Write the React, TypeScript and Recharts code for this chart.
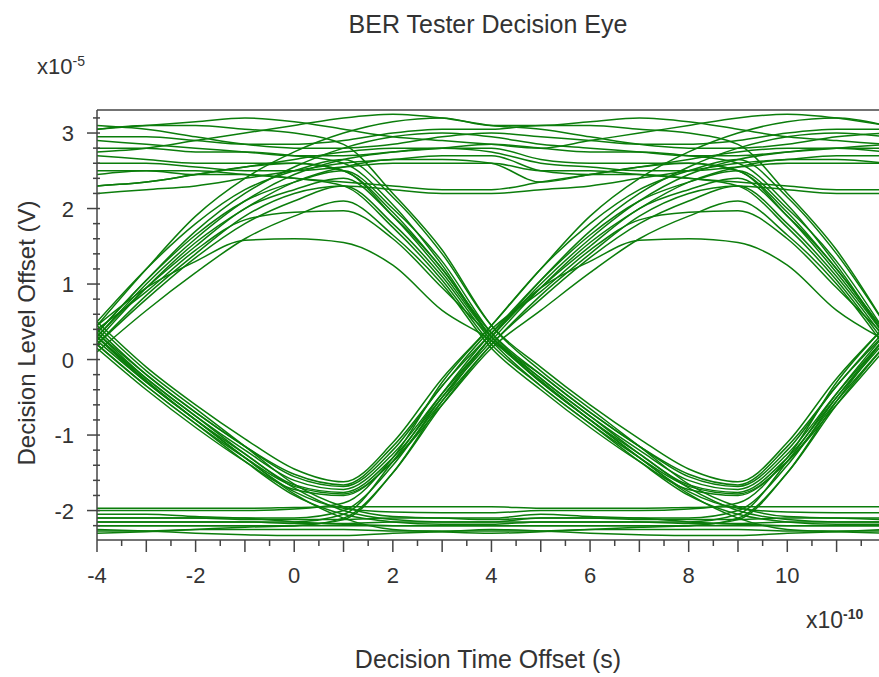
import React from "react";
import { LineChart, Line, XAxis, YAxis, ReferenceLine } from "recharts";

// time grid, units of 1e-10 s
const XS = [-4, -3, -2, -1, 0, 1, 2, 3, 4, 5, 6, 7, 8, 9, 10, 11, 12];

const X_TICKS = [-4, -3.5, -3, -2.5, -2, -1.5, -1, -0.5, 0, 0.5, 1, 1.5, 2, 2.5, 3, 3.5, 4, 4.5, 5, 5.5, 6, 6.5, 7, 7.5, 8, 8.5, 9, 9.5, 10, 10.5, 11, 11.5];
const Y_TICKS = [-2.2, -2, -1.8, -1.6, -1.4, -1.2, -1, -0.8, -0.6, -0.4, -0.2, 0, 0.2, 0.4, 0.6, 0.8, 1, 1.2, 1.4, 1.6, 1.8, 2, 2.2, 2.4, 2.6, 2.8, 3, 3.2];

// one bit window (x = -4..4), units of 1e-5 V, read off the eye
// rise then fall (010)
const RF_A = [0.3, 0.95, 1.5, 2.0, 2.25, 2.4, 1.9, 1.2, 0.3];
const RF_B = [0.1, 0.65, 1.15, 1.6, 1.9, 2.1, 1.65, 1.0, 0.15];
const RF_C = [0.5, 1.2, 1.8, 2.25, 2.5, 2.65, 2.15, 1.4, 0.45];
const RF_D = [0.45, 0.95, 1.3, 1.58, 1.6, 1.55, 1.25, 0.65, 0.25];
const RF_E = [0.4, 0.9, 1.45, 1.85, 1.95, 1.97, 1.6, 0.95, 0.3];
const RF_F = [0.2, 0.8, 1.35, 1.8, 2.1, 2.3, 1.8, 1.1, 0.25];
const RF_G = [0.35, 1.05, 1.65, 2.1, 2.35, 2.5, 2.0, 1.3, 0.35];
// rise then stay high (011)
const RH_A = [0.3, 1.0, 1.6, 2.1, 2.45, 2.65, 2.75, 2.8, 2.8];
const RH_B = [0.45, 1.2, 1.9, 2.4, 2.75, 3.0, 3.15, 3.2, 3.1];
const RH_C = [0.2, 0.85, 1.4, 1.9, 2.2, 2.3, 2.25, 2.2, 2.2];
const RH_D = [0.35, 1.05, 1.7, 2.2, 2.55, 2.8, 2.95, 3.0, 2.95];
const RH_E = [0.25, 0.95, 1.55, 2.0, 2.35, 2.55, 2.65, 2.65, 2.6];
// high then fall (110)
const HF_A = [2.8, 2.8, 2.75, 2.75, 2.7, 2.6, 2.05, 1.25, 0.3];
const HF_B = [2.5, 2.5, 2.45, 2.45, 2.4, 2.3, 1.75, 1.05, 0.2];
const HF_C = [3.05, 3.1, 3.1, 3.05, 3.0, 2.85, 2.2, 1.45, 0.45];
const HF_D = [2.3, 2.35, 2.45, 2.55, 2.6, 2.5, 1.95, 1.2, 0.35];
const HF_E = [2.7, 2.65, 2.6, 2.6, 2.6, 2.5, 1.9, 1.15, 0.3];
// high (111)
const HH_A = [3.05, 3.1, 3.15, 3.2, 3.15, 3.05, 2.95, 2.9, 2.85];
const HH_B = [2.3, 2.35, 2.45, 2.55, 2.65, 2.75, 2.8, 2.8, 2.75];
const HH_C = [2.9, 2.85, 2.8, 2.75, 2.7, 2.7, 2.75, 2.8, 2.85];
const HH_D = [2.6, 2.6, 2.55, 2.5, 2.5, 2.55, 2.6, 2.6, 2.6];
const HH_E = [2.75, 2.8, 2.9, 3.0, 3.1, 3.2, 3.25, 3.2, 3.1];
const HH_F = [2.45, 2.5, 2.5, 2.45, 2.4, 2.35, 2.3, 2.25, 2.25];
const HH_G = [2.95, 2.95, 2.9, 2.85, 2.85, 2.9, 3.0, 3.05, 3.05];
const HH_H = [2.2, 2.25, 2.3, 2.4, 2.5, 2.6, 2.65, 2.7, 2.7];
const HH_I = [3.1, 3.05, 2.95, 2.85, 2.8, 2.8, 2.85, 2.95, 3.0];
// fall then rise (101)
const FR_A = [0.3, -0.25, -0.75, -1.2, -1.6, -1.72, -1.25, -0.45, 0.3];
const FR_B = [0.15, -0.4, -0.9, -1.35, -1.72, -1.8, -1.35, -0.6, 0.15];
const FR_C = [0.5, -0.1, -0.6, -1.05, -1.45, -1.62, -1.1, -0.25, 0.45];
const FR_D = [0.25, -0.3, -0.8, -1.25, -1.66, -1.76, -1.3, -0.5, 0.25];
const FR_E = [0.4, -0.2, -0.7, -1.15, -1.55, -1.68, -1.2, -0.35, 0.35];
const FR_F = [0.2, -0.35, -0.85, -1.3, -1.68, -1.78, -1.35, -0.55, 0.2];
const FR_G = [0.35, -0.2, -0.7, -1.15, -1.52, -1.66, -1.15, -0.35, 0.4];
// fall then stay low (100)
const FL_A = [0.3, -0.3, -0.8, -1.3, -1.75, -1.97, -2.02, -2.03, -2.03];
const FL_B = [0.2, -0.35, -0.85, -1.35, -1.8, -2.05, -2.15, -2.18, -2.18];
const FL_C = [0.45, -0.15, -0.65, -1.15, -1.65, -1.95, -2.08, -2.1, -2.12];
const FL_D = [0.3, -0.28, -0.8, -1.3, -1.78, -2.1, -2.25, -2.28, -2.3];
const FL_E = [0.35, -0.25, -0.75, -1.25, -1.7, -2.0, -2.12, -2.15, -2.15];
// low then rise (001)
const LR_A = [-2.1, -2.1, -2.1, -2.1, -2.1, -2.0, -1.4, -0.5, 0.3];
const LR_B = [-2.2, -2.2, -2.2, -2.2, -2.2, -2.1, -1.5, -0.6, 0.2];
const LR_C = [-2.0, -2.0, -2.0, -2.0, -1.98, -1.9, -1.3, -0.3, 0.45];
const LR_D = [-2.3, -2.28, -2.25, -2.22, -2.2, -2.12, -1.5, -0.55, 0.3];
const LR_E = [-2.15, -2.15, -2.15, -2.15, -2.15, -2.05, -1.35, -0.45, 0.35];
// low (000)
const LL_A = [-1.97, -1.97, -1.97, -1.97, -1.96, -1.95, -1.95, -1.95, -1.95];
const LL_B = [-2.1, -2.1, -2.1, -2.12, -2.12, -2.12, -2.1, -2.1, -2.1];
const LL_C = [-2.2, -2.2, -2.2, -2.2, -2.2, -2.2, -2.2, -2.2, -2.2];
const LL_D = [-2.25, -2.27, -2.3, -2.32, -2.33, -2.33, -2.3, -2.28, -2.25];
const LL_E = [-2.05, -2.05, -2.08, -2.1, -2.15, -2.18, -2.2, -2.2, -2.2];
const LL_F = [-2.15, -2.15, -2.15, -2.15, -2.17, -2.17, -2.15, -2.15, -2.15];
const LL_G = [-2.27, -2.27, -2.25, -2.25, -2.25, -2.25, -2.27, -2.27, -2.27];

// each sweep = first eye window + second eye window
const SWEEPS: [number[], number[]][] = [
  [RF_A, FR_A], [RF_B, FR_B], [RF_C, FR_C], [RF_D, FR_D], [RF_E, FL_A], [RF_F, FR_F],
  [RF_G, FL_E], [HF_A, FL_D], [HF_B, FL_B], [HF_C, FL_C], [HF_D, FR_E], [HF_E, FR_G],
  [FR_A, RH_A], [FR_B, RF_B], [FR_C, RH_B], [FR_D, RH_E], [FR_E, RF_G], [FR_F, RH_C],
  [FR_G, RF_E], [LR_A, RF_A], [LR_B, RF_F], [LR_C, RF_C], [LR_D, RH_D], [LR_E, RF_D],
  [RH_C, HH_H], [HH_F, HF_D], [RH_E, HH_B], [HH_D, HH_F], [HH_H, HF_B], [HH_B, HH_D],
  [RH_A, HF_E], [HH_A, HH_E], [HH_C, HF_A], [RH_D, HH_C], [HH_I, HH_G], [HH_G, HF_C],
  [RH_B, HH_A], [HH_E, HH_I],
  [LL_A, LL_A], [FL_A, LR_C], [LL_B, LL_E], [FL_C, LR_A], [FL_E, LL_B], [LL_F, LR_E],
  [FL_B, LL_F], [LL_C, LR_B], [LL_E, LL_C], [LL_D, LL_D], [LL_G, LL_G], [FL_D, LR_D],
];

const TRACES = SWEEPS.map(([a, b]) => XS.map((x, i) => ({ x, y: i <= 8 ? a[i] : b[i - 8] })));

const AXIS = "#444";
const TXT = "#333";
const FONT = "'Liberation Sans', Arial, sans-serif";

function XTick(props: any) {
  const { x, y, payload } = props;
  const v = payload.value;
  const major = Math.abs(v - Math.round(v)) < 1e-6;
  const labeled = major && Math.round(v) % 2 === 0;
  return (
    <g>
      <line x1={x} x2={x} y1={y} y2={y + (major ? 12 : 6)} stroke={AXIS} strokeWidth={1.5} />
      {labeled && (
        <text x={x} y={y + 43} textAnchor="middle" fontSize={22} fill={TXT} fontFamily={FONT}>
          {Math.round(v)}
        </text>
      )}
    </g>
  );
}

function YTick(props: any) {
  const { x, y, payload } = props;
  const v = payload.value;
  const major = Math.abs(v - Math.round(v)) < 1e-6;
  return (
    <g>
      <line x1={major ? x - 10 : x - 4} x2={x + 3} y1={y} y2={y} stroke={AXIS} strokeWidth={1.5} />
      {major && (
        <text x={x - 23} y={y + 8} textAnchor="end" fontSize={22} fill={TXT} fontFamily={FONT}>
          {Math.round(v)}
        </text>
      )}
    </g>
  );
}

export default function App() {
  return (
    <div style={{ position: "absolute", left: 0, top: 0, width: 879, height: 677, background: "#fff", fontFamily: FONT, color: TXT }}>
      <LineChart width={879} height={677} margin={{ top: 110, right: 0, bottom: 107, left: 0 }}>
        <XAxis
          type="number"
          dataKey="x"
          domain={[-4, 11.86]}
          allowDataOverflow
          ticks={X_TICKS}
          interval={0}
          tickSize={0}
          tickMargin={0}
          tickLine={false}
          height={30}
          axisLine={{ stroke: AXIS, strokeWidth: 1.5 }}
          tick={(p: any) => <XTick {...p} />}
        />
        <YAxis
          type="number"
          domain={[-2.39, 3.305]}
          allowDataOverflow
          ticks={Y_TICKS}
          interval={0}
          tickSize={0}
          tickMargin={0}
          tickLine={false}
          width={97}
          axisLine={{ stroke: AXIS, strokeWidth: 1.5 }}
          tick={(p: any) => <YTick {...p} />}
        />
        <ReferenceLine y={3.305} stroke={AXIS} strokeWidth={1.5} />
        {TRACES.map((d, i) => (
          <Line
            key={i}
            data={d}
            dataKey="y"
            type="monotone"
            stroke="#0b7d0b"
            strokeWidth={1.5}
            dot={false}
            activeDot={false}
            isAnimationActive={false}
          />
        ))}
      </LineChart>

      <div style={{ position: "absolute", left: 0, width: 976, top: 10, textAlign: "center", fontSize: 25, lineHeight: "28px", whiteSpace: "nowrap" }}>
        BER Tester Decision Eye
      </div>
      <div style={{ position: "absolute", left: 37, top: 54, fontSize: 22, lineHeight: "26px", whiteSpace: "nowrap" }}>
        x10<sup style={{ fontSize: 14, verticalAlign: "top", lineHeight: "14px" }}>-5</sup>
      </div>
      <div style={{ position: "absolute", left: 806, top: 607, fontSize: 23, lineHeight: "26px", whiteSpace: "nowrap" }}>
        x10<sup style={{ fontSize: 14, fontWeight: "bold", verticalAlign: "top", lineHeight: "14px" }}>-10</sup>
      </div>
      <div style={{ position: "absolute", left: 0, width: 976, top: 645, textAlign: "center", fontSize: 25, lineHeight: "28px", whiteSpace: "nowrap" }}>
        Decision Time Offset (s)
      </div>
      <div
        style={{
          position: "absolute",
          left: 27,
          top: 333,
          fontSize: 24,
          lineHeight: "28px",
          whiteSpace: "nowrap",
          transform: "translate(-50%, -50%) rotate(-90deg)",
        }}
      >
        Decision Level Offset (V)
      </div>
    </div>
  );
}
